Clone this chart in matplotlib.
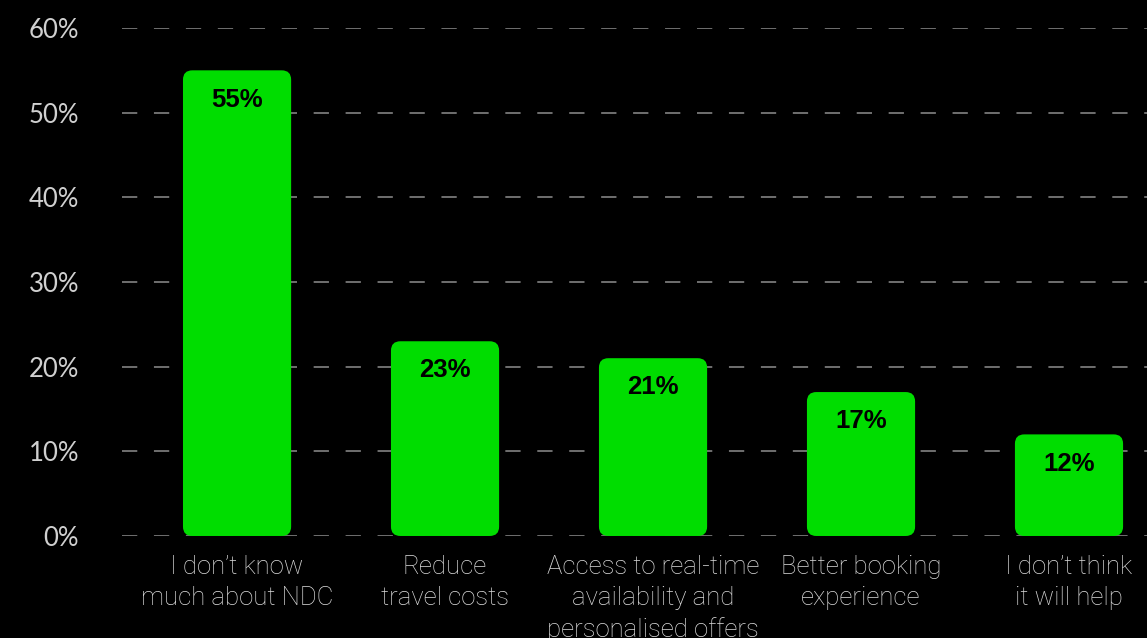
import matplotlib.pyplot as plt
from matplotlib.patches import FancyBboxPatch

# survey answers, share of respondents (%)
categories = [
    "I don\u2019t know\nmuch about NDC",
    "Reduce\ntravel costs",
    "Access to real-time\navailability and\npersonalised offers",
    "Better booking\nexperience",
    "I don\u2019t think\nit will help",
]
shares = [55, 23, 21, 17, 12]
yticks = [0, 10, 20, 30, 40, 50, 60]

GREEN = "#00dd00"
W, H, DPI = 11.47, 6.38, 100

plt.rcParams['lines.scale_dashes'] = False

fig = plt.figure(figsize=(W, H), dpi=DPI, facecolor="black")
ax = fig.add_axes([0.1064, 0.1599, 0.8936, 0.7962], facecolor="black")

x = list(range(len(categories)))
ax.set_xlim(-0.553, 4.375)
ax.set_ylim(0, 60)

# dashed horizontal guides behind the bars
for t in yticks:
    ax.axhline(t, color="#707070", lw=1.4, ls=(0, (11, 12)), zorder=0)

# rounded bars: build plain bars, then swap in rounded patches
bar_w = 0.52
bars = ax.bar(x, shares, width=bar_w, color=GREEN)
ax_px_w = 0.8936 * W * DPI
ax_px_h = 0.7962 * H * DPI
aspect = (60 / ax_px_h) / (4.928 / ax_px_w)
for b in bars:
    b.set_visible(False)
    r = FancyBboxPatch((b.get_x(), 0), b.get_width(), b.get_height(),
                       boxstyle="round,pad=0,rounding_size=0.045",
                       mutation_aspect=aspect, fc=GREEN, ec="none", zorder=2)
    ax.add_patch(r)

for xi, v in zip(x, shares):
    ax.annotate(f"{v}%", (xi, v), xytext=(0, -21), textcoords="offset points",
                ha="center", va="center", fontsize=18.5, fontweight="bold",
                color="black", family="Liberation Sans", zorder=3)

ax.set_yticks(yticks)
ax.set_yticklabels([f"{t}%" for t in yticks], family="Lato", fontsize=18.5,
                   color="#d0d0d0")
ax.set_xticks(x)
ax.set_xticklabels(categories, family="Roboto", fontweight="light", fontsize=18.5,
                   color="#dcdcdc", linespacing=1.36)
ax.tick_params(axis="y", length=0, pad=31)
ax.tick_params(axis="x", length=0, pad=14)
for s in ax.spines.values():
    s.set_visible(False)

fig.savefig("out.png", dpi=DPI, facecolor="black")
